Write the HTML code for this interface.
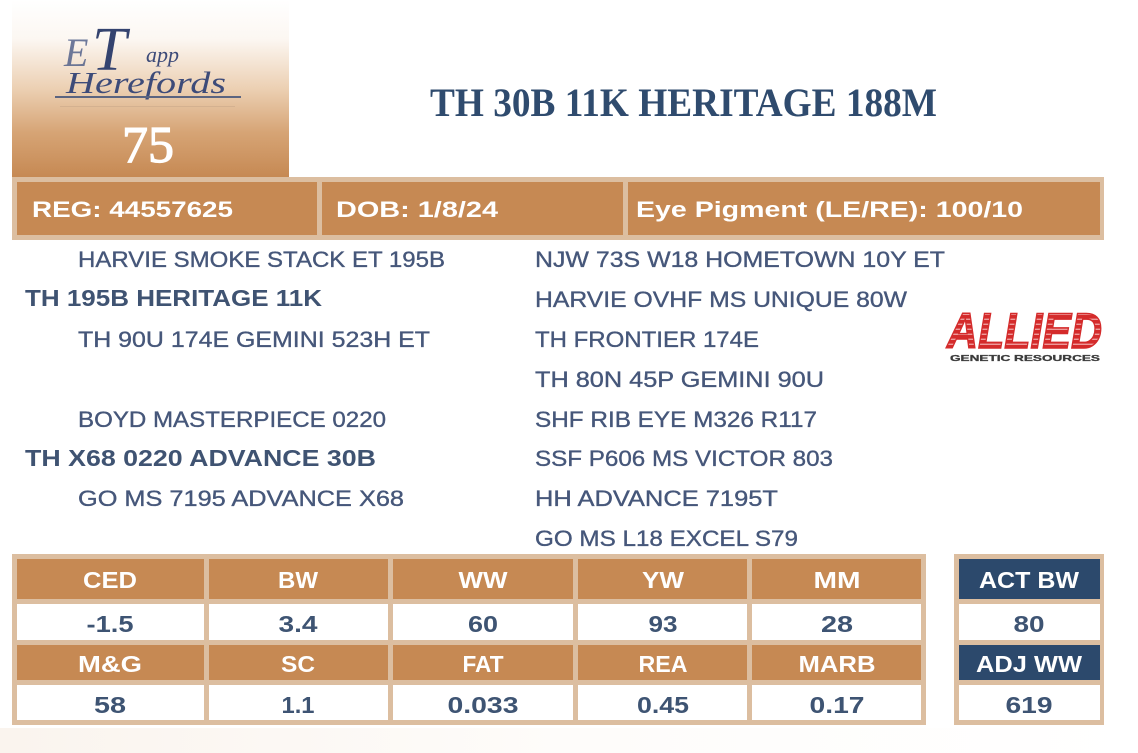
<!DOCTYPE html>
<html>
<head>
<meta charset="utf-8">
<style>
html,body{margin:0;padding:0;background:#ffffff;}
svg{display:block;}
</style>
</head>
<body>
<svg width="1138" height="753" viewBox="0 0 1138 753" xmlns="http://www.w3.org/2000/svg">
  <defs>
    <linearGradient id="lg" x1="0" y1="0" x2="0" y2="1">
      <stop offset="0" stop-color="#ffffff"/>
      <stop offset="0.22" stop-color="#fcf7f2"/>
      <stop offset="0.5" stop-color="#ecd0b3"/>
      <stop offset="0.75" stop-color="#d6a475"/>
      <stop offset="1" stop-color="#c68953"/>
    </linearGradient>
    <linearGradient id="bg" x1="0" y1="0" x2="1" y2="0">
      <stop offset="0" stop-color="#faf4ee"/>
      <stop offset="0.5" stop-color="#fefcfa"/>
      <stop offset="1" stop-color="#ffffff"/>
    </linearGradient>
    <pattern id="stripes" width="8" height="5" patternUnits="userSpaceOnUse">
      <rect width="8" height="3.8" fill="#d42b2b"/>
      <rect y="3.8" width="8" height="1.2" fill="#ee9a9a"/>
    </pattern>
  </defs>

  <rect x="0" y="0" width="1138" height="753" fill="#ffffff"/>
  <rect x="0" y="728" width="1138" height="25" fill="url(#bg)"/>

  <!-- Logo box -->
  <rect x="12" y="0" width="277" height="177" fill="url(#lg)"/>
  <g font-family="Liberation Serif, serif" font-style="italic" fill="#3d4b79">
    <text x="64" y="66" font-size="40" fill="#4a5a86" opacity="0.8">E</text>
    <text x="92" y="70" font-size="62" fill="#34436f">T</text>
    <text x="146" y="62" font-size="22">app</text>
    <text x="66" y="93" font-size="31" textLength="160" lengthAdjust="spacingAndGlyphs">Herefords</text>
  </g>
  <rect x="55" y="96" width="186" height="2" fill="#5b6480"/>
  <rect x="60" y="106" width="175" height="1" fill="#c9a88a" opacity="0.6"/>
  <text x="148" y="162" font-family="Liberation Serif, serif" font-size="52" fill="#ffffff" stroke="#ffffff" stroke-width="1.2" text-anchor="middle">75</text>

  <!-- Title -->
  <text x="430" y="116" font-family="Liberation Serif, serif" font-weight="bold" font-size="40" fill="#2f4b6e" textLength="507" lengthAdjust="spacingAndGlyphs">TH 30B 11K HERITAGE 188M</text>

  <!-- Info bar -->
  <rect x="12" y="177" width="1092" height="63" fill="#dcbea0"/>
  <rect x="17" y="182" width="300" height="53" fill="#c68953"/>
  <rect x="322" y="182" width="301" height="53" fill="#c68953"/>
  <rect x="628" y="182" width="472" height="53" fill="#c68953"/>
  <g font-family="Liberation Sans, sans-serif" font-weight="bold" font-size="22" fill="#ffffff">
    <text x="32" y="217" textLength="201" lengthAdjust="spacingAndGlyphs">REG: 44557625</text>
    <text x="336" y="217" textLength="162" lengthAdjust="spacingAndGlyphs">DOB: 1/8/24</text>
    <text x="636" y="217" textLength="387" lengthAdjust="spacingAndGlyphs">Eye Pigment (LE/RE): 100/10</text>
  </g>

  <!-- Pedigree -->
  <g font-family="Liberation Sans, sans-serif" font-size="22" fill="#46577a" stroke="#46577a" stroke-width="0.35">
    <text x="78" y="267" textLength="367" lengthAdjust="spacingAndGlyphs">HARVIE SMOKE STACK ET 195B</text>
    <text x="78" y="347" textLength="352" lengthAdjust="spacingAndGlyphs">TH 90U 174E GEMINI 523H ET</text>
    <text x="78" y="427" textLength="308" lengthAdjust="spacingAndGlyphs">BOYD MASTERPIECE 0220</text>
    <text x="78" y="506" textLength="326" lengthAdjust="spacingAndGlyphs">GO MS 7195 ADVANCE X68</text>

    <text x="535" y="267" textLength="410" lengthAdjust="spacingAndGlyphs">NJW 73S W18 HOMETOWN 10Y ET</text>
    <text x="535" y="307" textLength="372" lengthAdjust="spacingAndGlyphs">HARVIE OVHF MS UNIQUE 80W</text>
    <text x="535" y="347" textLength="224" lengthAdjust="spacingAndGlyphs">TH FRONTIER 174E</text>
    <text x="535" y="387" textLength="289" lengthAdjust="spacingAndGlyphs">TH 80N 45P GEMINI 90U</text>
    <text x="535" y="427" textLength="282" lengthAdjust="spacingAndGlyphs">SHF RIB EYE M326 R117</text>
    <text x="535" y="466" textLength="298" lengthAdjust="spacingAndGlyphs">SSF P606 MS VICTOR 803</text>
    <text x="535" y="506" textLength="243" lengthAdjust="spacingAndGlyphs">HH ADVANCE 7195T</text>
    <text x="535" y="546" textLength="263" lengthAdjust="spacingAndGlyphs">GO MS L18 EXCEL S79</text>
  </g>
  <g font-family="Liberation Sans, sans-serif" font-size="23" font-weight="bold" fill="#3f5372">
    <text x="25" y="306" textLength="297" lengthAdjust="spacingAndGlyphs">TH 195B HERITAGE 11K</text>
    <text x="25" y="466" textLength="351" lengthAdjust="spacingAndGlyphs">TH X68 0220 ADVANCE 30B</text>
  </g>

  <!-- Allied logo -->
  <g>
    <text x="947" y="348" font-family="Liberation Sans, sans-serif" font-weight="bold" font-style="italic" font-size="50" fill="url(#stripes)" stroke="#d42b2b" stroke-width="1.5" textLength="155" lengthAdjust="spacingAndGlyphs">ALLIED</text>
    <text x="950" y="361" font-family="Liberation Sans, sans-serif" font-weight="bold" font-size="8.5" fill="#3c3c3c" stroke="#3c3c3c" stroke-width="0.3" textLength="150" lengthAdjust="spacingAndGlyphs">GENETIC RESOURCES</text>
  </g>

  <!-- EPD table -->
  <rect x="12" y="554" width="914" height="171" fill="#dcbea0"/>
  <g fill="#c68953">
    <rect x="17" y="559" width="187" height="40"/>
    <rect x="209" y="559" width="179" height="40"/>
    <rect x="393" y="559" width="180" height="40"/>
    <rect x="578" y="559" width="169" height="40"/>
    <rect x="752" y="559" width="169" height="40"/>
    <rect x="17" y="645" width="187" height="35"/>
    <rect x="209" y="645" width="179" height="35"/>
    <rect x="393" y="645" width="180" height="35"/>
    <rect x="578" y="645" width="169" height="35"/>
    <rect x="752" y="645" width="169" height="35"/>
  </g>
  <g fill="#ffffff">
    <rect x="17" y="604" width="187" height="36"/>
    <rect x="209" y="604" width="179" height="36"/>
    <rect x="393" y="604" width="180" height="36"/>
    <rect x="578" y="604" width="169" height="36"/>
    <rect x="752" y="604" width="169" height="36"/>
    <rect x="17" y="685" width="187" height="35"/>
    <rect x="209" y="685" width="179" height="35"/>
    <rect x="393" y="685" width="180" height="35"/>
    <rect x="578" y="685" width="169" height="35"/>
    <rect x="752" y="685" width="169" height="35"/>
  </g>

  <!-- Actual box -->
  <rect x="954" y="554" width="150" height="171" fill="#dcbea0"/>
  <rect x="959" y="559" width="141" height="40" fill="#2c496c"/>
  <rect x="959" y="604" width="141" height="36" fill="#ffffff"/>
  <rect x="959" y="645" width="141" height="35" fill="#2c496c"/>
  <rect x="959" y="685" width="141" height="35" fill="#ffffff"/>

  <g font-family="Liberation Sans, sans-serif" font-weight="bold" font-size="23" fill="#ffffff" text-anchor="middle">
    <text x="110" y="588" textLength="54" lengthAdjust="spacingAndGlyphs">CED</text>
    <text x="298" y="588" textLength="40" lengthAdjust="spacingAndGlyphs">BW</text>
    <text x="483" y="588" textLength="49" lengthAdjust="spacingAndGlyphs">WW</text>
    <text x="663" y="588" textLength="42" lengthAdjust="spacingAndGlyphs">YW</text>
    <text x="837" y="588" textLength="47" lengthAdjust="spacingAndGlyphs">MM</text>
    <text x="110" y="672" textLength="64" lengthAdjust="spacingAndGlyphs">M&amp;G</text>
    <text x="298" y="672" textLength="34" lengthAdjust="spacingAndGlyphs">SC</text>
    <text x="483" y="672" textLength="41" lengthAdjust="spacingAndGlyphs">FAT</text>
    <text x="663" y="672" textLength="49" lengthAdjust="spacingAndGlyphs">REA</text>
    <text x="837" y="672" textLength="77" lengthAdjust="spacingAndGlyphs">MARB</text>
    <text x="1029" y="588" textLength="100" lengthAdjust="spacingAndGlyphs">ACT BW</text>
    <text x="1029" y="672" textLength="106" lengthAdjust="spacingAndGlyphs">ADJ WW</text>
  </g>
  <g font-family="Liberation Sans, sans-serif" font-weight="bold" font-size="23" fill="#3e5473" text-anchor="middle">
    <text x="110" y="632" textLength="47" lengthAdjust="spacingAndGlyphs">-1.5</text>
    <text x="298" y="632" textLength="39" lengthAdjust="spacingAndGlyphs">3.4</text>
    <text x="483" y="632" textLength="30" lengthAdjust="spacingAndGlyphs">60</text>
    <text x="663" y="632" textLength="29" lengthAdjust="spacingAndGlyphs">93</text>
    <text x="837" y="632" textLength="32" lengthAdjust="spacingAndGlyphs">28</text>
    <text x="110" y="713" textLength="32" lengthAdjust="spacingAndGlyphs">58</text>
    <text x="298" y="713" textLength="33" lengthAdjust="spacingAndGlyphs">1.1</text>
    <text x="483" y="713" textLength="71" lengthAdjust="spacingAndGlyphs">0.033</text>
    <text x="663" y="713" textLength="52" lengthAdjust="spacingAndGlyphs">0.45</text>
    <text x="837" y="713" textLength="55" lengthAdjust="spacingAndGlyphs">0.17</text>
    <text x="1029" y="632" textLength="31" lengthAdjust="spacingAndGlyphs">80</text>
    <text x="1029" y="713" textLength="47" lengthAdjust="spacingAndGlyphs">619</text>
  </g>
</svg>
</body>
</html>
